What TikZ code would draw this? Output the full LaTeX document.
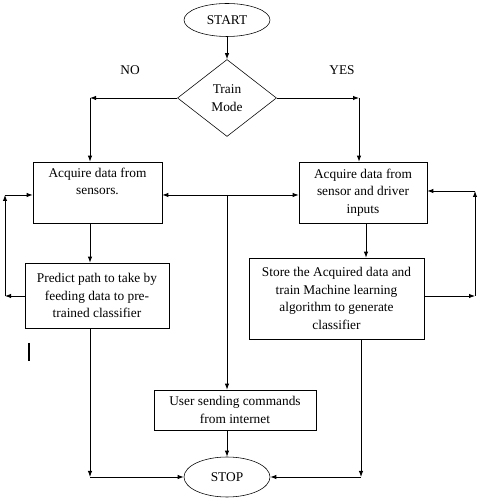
\documentclass[tikz,border=0pt]{standalone}
\usepackage{fontspec}
\setmainfont{Liberation Serif}
\usetikzlibrary{shapes.geometric,arrows.meta,calc}
\begin{document}
\begin{tikzpicture}[
  every node/.style={font=\fontsize{9.5}{12.4}\selectfont},
  term/.style={draw, ellipse, inner sep=0pt, minimum width=2.15cm},
  decision/.style={draw, diamond, inner sep=0pt, align=center, minimum width=2.475cm, minimum height=1.925cm},
  block/.style={draw, rectangle, align=center, inner sep=0pt},
  flow/.style={semithick, -{Latex[length=1.5mm,width=1.1mm]}},
  line/.style={semithick},
]
\useasboundingbox (0,0) rectangle (12.05,12.45);
% Start and decision
\node[term, minimum height=0.825cm] (start) at (5.675,11.95) {START};
\node[decision] (mode) at (5.675,10.0) {Train\\Mode};
\node (no) at (3.25,10.7) {NO};
\node (yes) at (8.55,10.7) {YES};
% Boxes
\node[block, minimum width=3.225cm, minimum height=1.525cm] (acq) at (2.4375,7.6375) {Acquire data from\\sensors.\\\strut};
\node[block, minimum width=3.2cm, minimum height=1.525cm] (acqd) at (9.075,7.6375) {Acquire data from\\sensor and driver\\inputs};
\node[block, minimum width=3.6cm, minimum height=1.625cm] (pred) at (2.425,5.0625) {Predict path to take by\\feeding data to pre-\\trained classifier};
\node[block, minimum width=4.375cm, minimum height=2.025cm] (store) at (8.4125,4.9875) {Store the Acquired data and\\train Machine learning\\algorithm to generate\\classifier};
\node[block, minimum width=4.05cm, minimum height=1.0cm] (user) at (5.875,2.2) {User sending commands\\from internet};
\node[term, minimum height=1.0cm] (stop) at (5.675,0.525) {STOP};
% Corner points
\coordinate (nl) at (2.25,10.0);
\coordinate (nr) at (8.975,10.0);
\coordinate (mid) at (5.675,7.575);
\coordinate (lb) at (0.125,5.05);
\coordinate (lt) at (0.125,7.575);
\coordinate (rb) at (11.875,5.05);
\coordinate (rt) at (11.875,7.675);
\coordinate (sl) at (2.25,0.525);
\coordinate (sr) at (9.025,0.525);
% Train mode branches
\draw[flow] (start) -- (mode);
\draw[flow] (mode.west) -- (nl);
\draw[flow] (nl) -- (nl |- acq.north);
\draw[flow] (mode.east) -- (nr);
\draw[flow] (nr) -- (nr |- acqd.north);
% Middle link
\draw[semithick, {Latex[length=1.5mm,width=1.1mm]}-{Latex[length=1.5mm,width=1.1mm]}] (mid -| acq.east) -- (mid -| acqd.west);
\draw[flow] (mid) -- (mid |- user.north);
% Left side
\draw[flow] (nl |- acq.south) -- (nl |- pred.north);
\draw[flow] (pred.west |- lb) -- (lb);
\draw[flow] (lb) -- (lt);
\draw[flow] (lt) -- (lt -| acq.west);
\draw[flow] (nl |- pred.south) -- (sl);
\draw[flow] (sl) -- (stop.west);
% Right side
\draw[flow] (9.15,0 |- acqd.south) -- (9.15,0 |- store.north);
\draw[flow] (store.east |- rb) -- (rb);
\draw[flow] (rb) -- (rt);
\draw[flow] (rt) -- (rt -| acqd.east);
\draw[flow] (sr |- store.south) -- (sr);
\draw[flow] (sr) -- (stop.east);
% Bottom
\draw[flow] (user.south -| mid) -- (stop.north);
% Stray mark
\draw[line width=1.1pt] (0.725,3.875) -- (0.725,3.425);
\end{tikzpicture}
\end{document}
